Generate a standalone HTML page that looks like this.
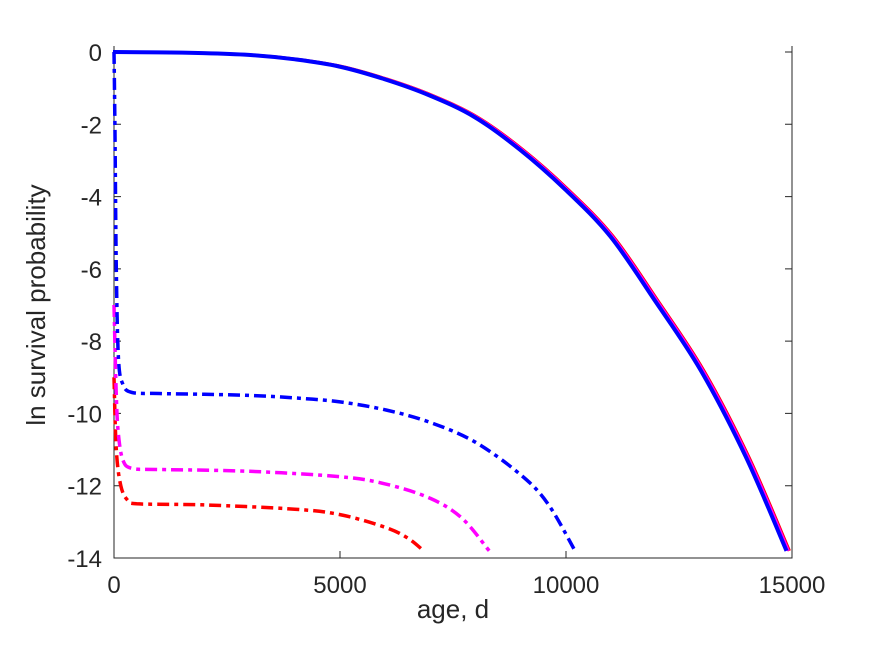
<!DOCTYPE html>
<html><head><meta charset="utf-8"><style>
body{margin:0;background:#fff;}
svg{display:block;font-family:"Liberation Sans",Arial,sans-serif;}
</style></head><body>
<svg id="chart" width="875" height="656">
<g id="axes"></g>
<g id="series"></g>
<text x="453" y="618" font-size="26" fill="#262626" text-anchor="middle">age, d</text>
<text transform="translate(45,305) rotate(-90)" font-size="26" fill="#262626" text-anchor="middle">ln survival probability</text>
</svg>
<script>
const xTicks=[0,5000,10000,15000];
const yTicks=[0,-2,-4,-6,-8,-10,-12,-14];
const solidX=[0,1000,2000,3000,4000,5000,6000,7000,8000,9000,10000,11000,12000,13000,14000,14900];
const solidY=[0,-0.01,-0.03,-0.08,-0.2,-0.4,-0.75,-1.2,-1.8,-2.7,-3.8,-5.1,-6.9,-8.8,-11.2,-13.8];
const blueDX=[0,20,50,100,200,400,1000,2000,3000,4000,5000,6000,7000,8000,9000,9600,10200];
const blueDY=[0,-2,-6,-8.5,-9.2,-9.42,-9.45,-9.47,-9.5,-9.57,-9.68,-9.9,-10.25,-10.8,-11.7,-12.5,-13.8];
const magDX=[0,50,100,200,400,1000,3000,5000,6000,7000,7700,8300];
const magDY=[-7,-9.5,-10.6,-11.3,-11.52,-11.55,-11.6,-11.75,-11.95,-12.35,-12.9,-13.8];
const redDX=[0,50,150,300,500,2000,4000,5000,6000,6500,6850];
const redDY=[-9,-11,-12,-12.4,-12.5,-12.53,-12.65,-12.8,-13.15,-13.45,-13.8];
const NS='http://www.w3.org/2000/svg';
const X0=114,X1=792,Y0=52,Y1=558;
const sx=v=>X0+(v-0)/15000*(X1-X0);
const sy=v=>Y0+(0-v)/14*(Y1-Y0);
const axes=document.getElementById('axes'),series=document.getElementById('series');
function mk(t,a,p){const e=document.createElementNS(NS,t);for(const k in a)e.setAttribute(k,a[k]);p.appendChild(e);return e;}
const ax=mk('path',{d:`M${X0},${Y0-6}V${Y1}H${X1}V${Y0-6}`,fill:'none',stroke:'#262626','stroke-width':1},axes);


xTicks.forEach(t=>{const x=sx(t);
 const l=mk('path',{d:`M${x},${Y1}v-7`,stroke:'#262626'},axes);
 
 
 const tx=mk('text',{x:x,y:Y1+35,'font-size':24,fill:'#262626','text-anchor':'middle'},axes);tx.textContent=t;
 
 });
yTicks.forEach(t=>{const y=sy(t);
 const l=mk('path',{d:`M${X0},${y}h7M${X1},${y}h-7`,stroke:'#262626'},axes);
 
 
 const tx=mk('text',{x:102,y:y+9,'font-size':24,fill:'#262626','text-anchor':'end'},axes);tx.textContent=t;
 
 });
function smooth(pts){
 let d='M'+pts[0][0].toFixed(1)+','+pts[0][1].toFixed(1);
 for(let i=0;i<pts.length-1;i++){
  const p0=pts[Math.max(0,i-1)],p1=pts[i],p2=pts[i+1],p3=pts[Math.min(pts.length-1,i+2)];
  const c1=[p1[0]+(p2[0]-p0[0])/6,p1[1]+(p2[1]-p0[1])/6];
  const c2=[p2[0]-(p3[0]-p1[0])/6,p2[1]-(p3[1]-p1[1])/6];
  c1[0]=Math.min(Math.max(c1[0],p1[0]),p2[0]);c2[0]=Math.min(Math.max(c2[0],p1[0]),p2[0]);
  d+=`C${c1[0].toFixed(1)},${c1[1].toFixed(1)} ${c2[0].toFixed(1)},${c2[1].toFixed(1)} ${p2[0].toFixed(1)},${p2[1].toFixed(1)}`;
 }
 return d;}
function line(xs,ys,col,w,dash,dx,name){
 const pts=xs.map((v,i)=>[sx(v)+dx,sy(ys[i])]);
 const p=mk('path',{d:smooth(pts),fill:'none',stroke:col,'stroke-width':w,'stroke-linejoin':'round'},series);
 if(dash)p.setAttribute('stroke-dasharray',dash);
 
 }
line(solidX,solidY,'#ff0000',3,null,2,'red-solid-line');
line(solidX,solidY,'#ff00ff',3,null,1,'magenta-solid-line');
line(solidX,solidY,'#0000ff',4,null,-1,'blue-solid-line');
line(redDX,redDY,'#ff0000',3.5,'12 5 4 5',0,'red-dashdot-line');
line(magDX,magDY,'#ff00ff',3.5,'12 5 4 5',0,'magenta-dashdot-line');
line(blueDX,blueDY,'#0000ff',3.5,'12 5 4 5',0,'blue-dashdot-line');
</script>
</body></html>
